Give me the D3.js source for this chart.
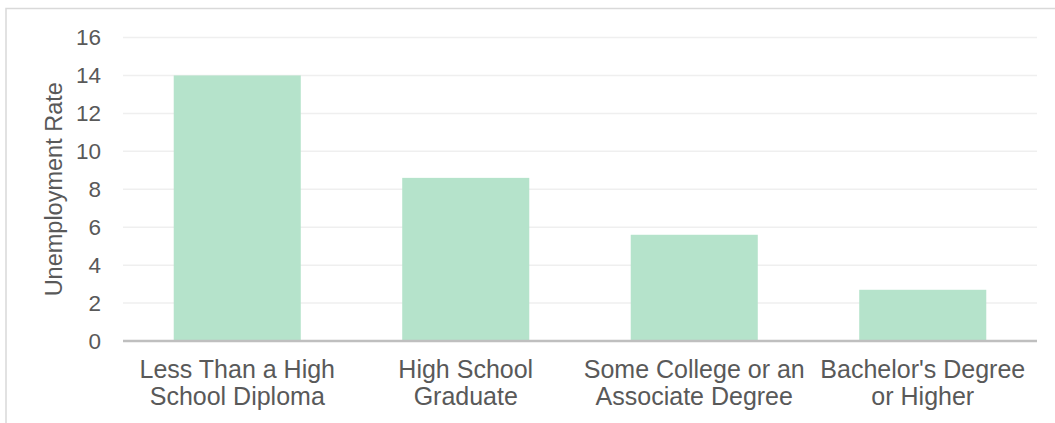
<!DOCTYPE html>
<html>
<head>
<meta charset="utf-8">
<script src="https://cdn.jsdelivr.net/npm/d3@7"></script>
<style>
  html, body { margin: 0; padding: 0; background: #fff; }
  svg { display: block; font-family: "Liberation Sans", Arial, sans-serif; }
</style>
</head>
<body>
<div class="chart"></div>
<script>
// Data
const categories = [
    ['Less Than a High', 'School Diploma'],
    ['High School', 'Graduate'],
    ['Some College or an', 'Associate Degree'],
    ["Bachelor's Degree", 'or Higher']
]
const rates = [14.0, 8.6, 5.6, 2.7]
const yTicks = [0, 2, 4, 6, 8, 10, 12, 14, 16]

// Container
const viewportWidth = 1055,
    viewportHeight = 423,
    margin = { top: 37.5, right: 18, bottom: 82, left: 123 },
    width = viewportWidth - margin.left - margin.right,
    height = viewportHeight - margin.top - margin.bottom

const svg = d3.select('.chart')
    .append('svg')
    .attr('width', viewportWidth)
    .attr('height', viewportHeight)

// outer frame (cut off at right and bottom)
svg.append('rect')
    .attr('x', 6)
    .attr('y', 8.5)
    .attr('width', viewportWidth + 20)
    .attr('height', viewportHeight + 20)
    .attr('fill', 'none')
    .attr('stroke', '#d9d9d9')
    .attr('stroke-width', 1.5)

const g = svg.append('g')
    .attr('transform', `translate(${margin.left}, ${margin.top})`)

// Scales
const x = d3.scaleBand()
    .domain(d3.range(categories.length))
    .range([0, width])
    .paddingInner(0.444)
    .paddingOuter(0.222)

const y = d3.scaleLinear()
    .domain([0, 16])
    .range([height, 0])

// Gridlines
g.append('g')
    .selectAll('line')
    .data(yTicks.filter(d => d > 0))
    .enter()
    .append('line')
    .attr('x1', 0)
    .attr('x2', width)
    .attr('y1', d => y(d))
    .attr('y2', d => y(d))
    .attr('stroke', '#efefef')
    .attr('stroke-width', 1.5)

// Bars
g.append('g')
    .selectAll('rect')
    .data(rates)
    .enter()
    .append('rect')
    .attr('x', (d, i) => x(i))
    .attr('width', x.bandwidth())
    .attr('y', d => y(d))
    .attr('height', d => y(0) - y(d))
    .attr('fill', '#b5e3cb')

// Baseline
g.append('line')
    .attr('x1', 0)
    .attr('x2', width)
    .attr('y1', y(0))
    .attr('y2', y(0))
    .attr('stroke', '#bfbfbf')
    .attr('stroke-width', 2.5)

// Y axis tick labels
const yAxis = g.append('g')
    .call(d3.axisLeft(y).tickValues(yTicks).tickSize(0).tickPadding(22))
yAxis.select('.domain').remove()
yAxis.selectAll('text')
    .attr('fill', '#595959')
    .style('font-size', '22.5px')

// X axis labels (two lines)
const xLabels = g.append('g')
    .selectAll('text')
    .data(categories)
    .enter()
    .append('text')
    .attr('text-anchor', 'middle')
    .attr('fill', '#595959')
    .style('font-size', '25px')
    .attr('transform', (d, i) => `translate(${x(i) + x.bandwidth() / 2}, ${height + 37})`)

xLabels.selectAll('tspan')
    .data(d => d)
    .enter()
    .append('tspan')
    .attr('x', 0)
    .attr('dy', (d, i) => i === 0 ? 0 : 27)
    .text(d => d)

// Y axis title
g.append('text')
    .attr('transform', `translate(${61.5 - margin.left}, ${height / 2}) rotate(-90)`)
    .attr('text-anchor', 'middle')
    .attr('fill', '#595959')
    .style('font-size', '23.5px')
    .text('Unemployment Rate')
</script>
</body>
</html>
